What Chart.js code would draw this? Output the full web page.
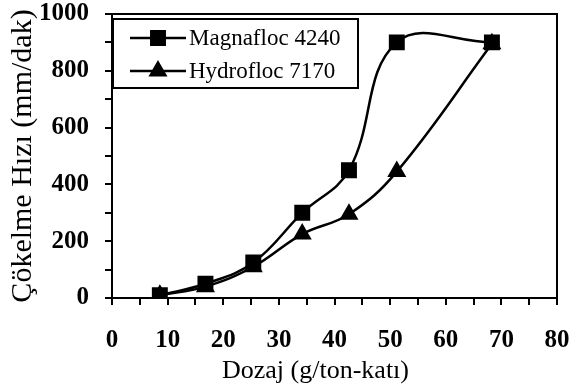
<!DOCTYPE html>
<html>
<head>
<meta charset="utf-8">
<script src="https://cdn.jsdelivr.net/npm/chart.js@4.4.1/dist/chart.umd.min.js"></script>
<style>
  html, body { margin: 0; padding: 0; background: #fff; }
  #wrap { width: 581px; height: 389px; }
</style>
</head>
<body>
<div id="wrap"><canvas id="chart" width="581" height="389"></canvas></div>
<script>
// data
const doses = [8.6, 16.8, 25.4, 34.2, 42.6, 51.2, 68.3];
const magnafloc = [10, 50, 125, 300, 450, 900, 900];
const hydrofloc = [10, 40, 110, 225, 295, 445, 895];
const seriesNames = ["Magnafloc 4240", "Hydrofloc 7170"];
const xTitle = "Dozaj (g/ton-katı)";
const yTitle = "Çökelme Hızı (mm/dak)";

const serif = "'Liberation Serif', 'Times New Roman', serif";

function toPoints(ys) {
  return doses.map((x, i) => ({ x: x, y: ys[i] }));
}

// frame around the plot area + x title (sits a bit left of centre in the original)
const framePlugin = {
  id: "frame",
  afterDraw(chart) {
    const a = chart.chartArea;
    const ctx = chart.ctx;
    ctx.save();
    ctx.strokeStyle = "#000";
    ctx.lineWidth = 2;
    ctx.strokeRect(a.left, a.top, a.right - a.left, a.bottom - a.top);
    ctx.fillStyle = "#000";
    ctx.font = "26px " + serif;
    ctx.textAlign = "center";
    ctx.textBaseline = "middle";
    ctx.fillText(xTitle, (a.left + a.right) / 2 - 19, 371);
    ctx.restore();
  }
};

// boxed legend in the top-left corner
const legendBox = {
  id: "legendBox",
  afterDraw(chart) {
    const a = chart.chartArea;
    const ctx = chart.ctx;
    const left = a.left + 1, top = a.top + 5, w = 245, h = 69;
    ctx.save();
    ctx.fillStyle = "#fff";
    ctx.fillRect(left, top, w, h);
    ctx.strokeStyle = "#000";
    ctx.lineWidth = 2;
    ctx.strokeRect(left, top, w, h);
    chart.data.datasets.forEach((ds, i) => {
      const y = top + 19 + i * 33;
      ctx.beginPath();
      ctx.lineWidth = 2.5;
      ctx.moveTo(left + 17, y);
      ctx.lineTo(left + 73, y);
      ctx.stroke();
      ctx.fillStyle = "#000";
      Chart.helpers.drawPoint(ctx, { pointStyle: ds.pointStyle, radius: ds.pointRadius, borderWidth: 1 }, left + 45, y);
      ctx.fillStyle = "#000";
      ctx.font = "23px " + serif;
      ctx.textBaseline = "middle";
      ctx.textAlign = "left";
      ctx.fillText(ds.label, left + 76, y + 1);
    });
    ctx.restore();
  }
};

new Chart(document.getElementById("chart"), {
  type: "line",
  data: {
    datasets: [
      {
        label: seriesNames[0],
        data: toPoints(magnafloc),
        borderColor: "#000",
        backgroundColor: "#000",
        borderWidth: 2.5,
        pointStyle: "rect",
        pointRadius: 9.5,
        tension: 0.4
      },
      {
        label: seriesNames[1],
        data: toPoints(hydrofloc),
        borderColor: "#000",
        backgroundColor: "#000",
        borderWidth: 2.5,
        pointStyle: "triangle",
        pointRadius: 8.5,
        tension: 0.4
      }
    ]
  },
  options: {
    responsive: false,
    animation: false,
    layout: { padding: { left: 0, top: 14, right: 24, bottom: 0 } },
    plugins: {
      legend: { display: false },
      tooltip: { enabled: false }
    },
    scales: {
      x: {
        type: "linear",
        min: 0,
        max: 80,
        afterFit(scale) { scale.height = 91; scale.paddingLeft = 0; scale.paddingRight = 0; },
        ticks: {
          stepSize: 5,
          padding: 21,
          autoSkip: false,
          maxRotation: 0,
          minRotation: 0,
          color: "#000",
          font: { family: serif, size: 25, weight: "bold" },
          callback: (v) => (v % 10 === 0 ? v : "")
        },
        grid: { drawOnChartArea: false, drawTicks: true, tickLength: 7, color: "#000", lineWidth: 2 },
        border: { display: true, color: "#000", width: 2 }
      },
      y: {
        min: 0,
        max: 1000,
        afterFit(scale) { scale.width = 112; scale.paddingTop = 0; scale.paddingBottom = 0; },
        ticks: {
          stepSize: 100,
          padding: 16,
          autoSkip: false,
          color: "#000",
          font: { family: serif, size: 25, weight: "bold" },
          callback: (v) => (v % 200 === 0 ? v : "")
        },
        grid: { drawOnChartArea: false, drawTicks: true, tickLength: 7, color: "#000", lineWidth: 2 },
        border: { display: true, color: "#000", width: 2 },
        title: {
          display: true,
          text: yTitle,
          color: "#000",
          font: { family: serif, size: 30 },
          padding: { top: 5, bottom: 0 }
        }
      }
    }
  },
  plugins: [framePlugin, legendBox]
});
</script>
</body>
</html>
